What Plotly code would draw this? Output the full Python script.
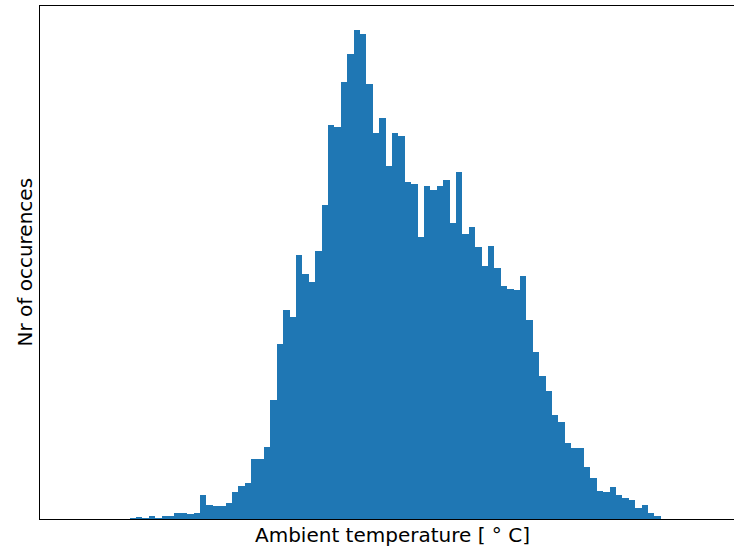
import plotly.graph_objects as go

# Histogram counts per bin (100 equal bins)
counts = [
    0, 0, 0, 0, 0, 0, 0, 0, 0, 1,
    2, 1, 3, 1, 3, 3, 6, 6, 5, 6,
    24, 14, 13, 13, 16, 27, 33, 36, 60, 60,
    72, 119, 175, 209, 202, 264, 245, 237, 268, 314,
    394, 392, 437, 465, 489, 485, 435, 386, 401, 353,
    386, 383, 337, 335, 282, 333, 329, 333, 339, 296,
    347, 285, 292, 272, 253, 273, 251, 233, 230, 229,
    243, 199, 167, 143, 128, 104, 97, 76, 71, 71,
    52, 41, 28, 27, 32, 24, 21, 19, 11, 14,
    6, 3, 0, 0, 0, 0, 0, 0, 0, 0,
]
bin_centers = [i + 0.5 for i in range(len(counts))]

x_label = "Ambient temperature [ ° C]"
y_label = "Nr of occurences"

fig = go.Figure()
fig.add_trace(go.Bar(
    x=bin_centers, y=counts, width=1.0,
    marker=dict(color="#1f77b4", line=dict(width=0)),
    hoverinfo="skip",
))

fig.update_layout(
    width=734, height=551,
    margin=dict(l=40, r=0, t=6, b=32),
    plot_bgcolor="white", paper_bgcolor="white",
    showlegend=False, bargap=0,
    font=dict(family="DejaVu Sans", size=20, color="black"),
    xaxis=dict(range=[-5, 103.44], showgrid=False, zeroline=False,
               showticklabels=False, ticks="", showline=True, mirror=True,
               linecolor="black", linewidth=1),
    yaxis=dict(range=[0, 513], showgrid=False, zeroline=False,
               showticklabels=False, ticks="", showline=True,
               linecolor="black", linewidth=1),
    annotations=[
        dict(text=x_label, xref="paper", yref="paper",
             x=(392 - 40) / 694, y=(519 - 535) / 513,
             xanchor="center", yanchor="middle", showarrow=False,
             font=dict(family="DejaVu Sans", size=20)),
        dict(text=y_label, xref="paper", yref="paper",
             x=(24 - 40) / 694, y=0.5, textangle=-90,
             xanchor="center", yanchor="middle", showarrow=False,
             font=dict(family="DejaVu Sans", size=20)),
    ],
)

fig.write_html("out.html")
